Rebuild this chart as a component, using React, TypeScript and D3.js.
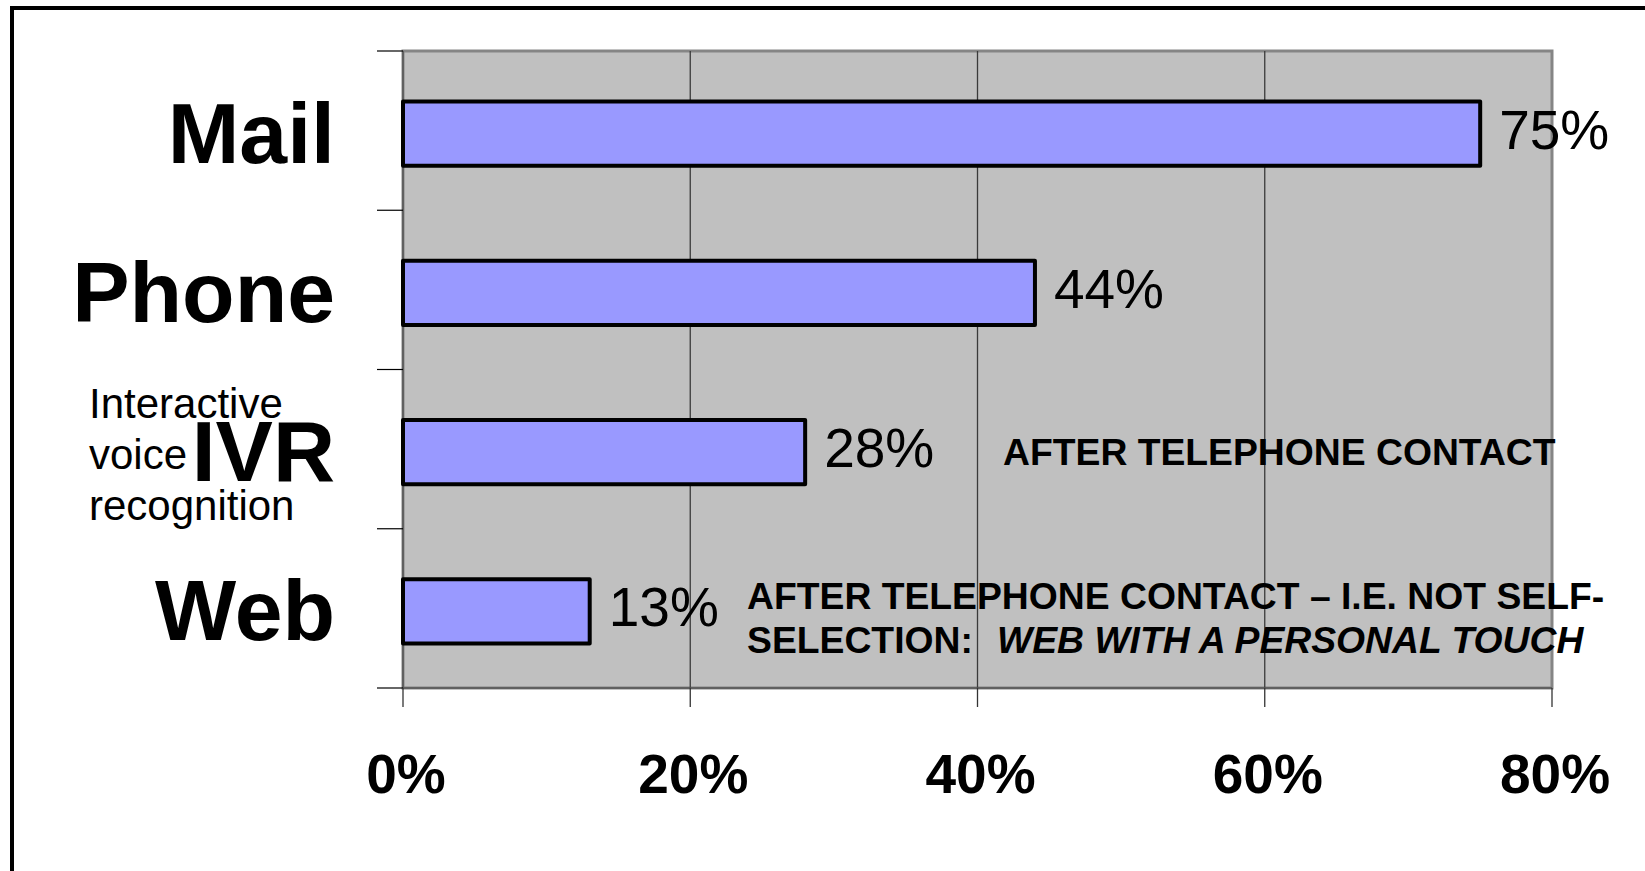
import React from "react";
import * as d3 from "d3";

const categories = ["Mail", "Phone", "IVR", "Web"];
const values = [75, 44, 28, 13];
const xTicks = [0, 20, 40, 60, 80];
const ivrNote = ["Interactive", "voice", "recognition"];
const ivrAnnotation = "AFTER TELEPHONE CONTACT";
const webAnnotationLine1 = "AFTER TELEPHONE CONTACT \u2013 I.E. NOT SELF-";
const webAnnotationLine2a = "SELECTION:";
const webAnnotationLine2b = "WEB WITH A PERSONAL TOUCH";

const W = 1645;
const H = 871;
const margin = { left: 403, right: 93, top: 51, bottom: 183 };
const FONT = "'Liberation Sans', Arial, Helvetica, sans-serif";

export default function App() {
  const x = d3
    .scaleLinear()
    .domain([0, 80])
    .range([margin.left, W - margin.right]);
  const y = d3
    .scaleBand<string>()
    .domain(categories)
    .range([margin.top, H - margin.bottom])
    .paddingInner(0)
    .paddingOuter(0);
  const bw = y.bandwidth();
  const barH = bw * 0.405;
  const shift = 3;
  const center = (c: string) => (y(c) as number) + bw / 2 + shift;
  const boundaries = categories.map((c) => y(c) as number).concat([H - margin.bottom]);
  const plotTop = margin.top;
  const plotBottom = H - margin.bottom;

  const ivrC = center("IVR");
  const webC = center("Web");

  return (
    <svg
      width={W}
      height={H}
      style={{ position: "absolute", left: 0, top: 0, display: "block", background: "#fff" }}
      fontFamily={FONT}
    >
      {/* outer frame */}
      <rect x={12} y={8} width={W + 20} height={H + 20} fill="none" stroke="#000" strokeWidth={4} />

      {/* plot background */}
      <rect
        x={x(0)}
        y={plotTop}
        width={x(80) - x(0)}
        height={plotBottom - plotTop}
        fill="#C0C0C0"
        stroke="#858585"
        strokeWidth={3}
      />

      {/* vertical gridlines */}
      {xTicks.slice(1, -1).map((t) => (
        <line key={"g" + t} x1={x(t)} x2={x(t)} y1={plotTop} y2={plotBottom} stroke="#3a3a3a" strokeWidth={1.3} />
      ))}

      {/* axes lines */}
      <line x1={x(0)} x2={x(0)} y1={plotTop} y2={plotBottom} stroke="#555" strokeWidth={1.5} />
      <line x1={x(0)} x2={x(80)} y1={plotBottom} y2={plotBottom} stroke="#555" strokeWidth={1.5} />

      {/* y ticks */}
      {boundaries.map((b, i) => (
        <line key={"yt" + i} x1={377} x2={x(0)} y1={b} y2={b} stroke="#000" strokeWidth={1.2} />
      ))}

      {/* x ticks */}
      {xTicks.map((t) => (
        <line key={"xt" + t} x1={x(t)} x2={x(t)} y1={plotBottom} y2={plotBottom + 19} stroke="#333" strokeWidth={1.3} />
      ))}

      {/* x tick labels */}
      {xTicks.map((t) => (
        <text
          key={"xl" + t}
          x={x(t) + 3}
          y={793}
          textAnchor="middle"
          fontSize={55}
          fontWeight="bold"
          fill="#000"
        >
          {t + "%"}
        </text>
      ))}

      {/* bars */}
      {categories.map((c, i) => (
        <rect
          key={"b" + c}
          x={x(0)}
          y={center(c) - barH / 2}
          width={x(values[i]) - x(0)}
          height={barH}
          fill="#9999FF"
          stroke="#000"
          strokeWidth={4}
          strokeLinejoin="round"
        />
      ))}

      {/* value labels */}
      {categories.map((c, i) => (
        <text
          key={"v" + c}
          x={x(values[i]) + 19}
          y={center(c) + 15}
          fontSize={55}
          fill="#000"
        >
          {values[i] + "%"}
        </text>
      ))}

      {/* category labels */}
      {categories.map((c) => (
        <text
          key={"c" + c}
          x={335}
          y={center(c) + 29}
          textAnchor="end"
          fontSize={86}
          fontWeight="bold"
          fill="#000"
        >
          {c}
        </text>
      ))}

      {/* IVR note */}
      {ivrNote.map((s, i) => (
        <text key={"n" + i} x={89} y={ivrC - 34 + i * 51} fontSize={42} fill="#000">
          {s}
        </text>
      ))}

      {/* annotations */}
      <text x={1003} y={ivrC + 13} fontSize={37.3} fontWeight="bold" fill="#000">
        {ivrAnnotation}
      </text>
      <text x={747} y={webC - 2} fontSize={37.3} fontWeight="bold" fill="#000">
        {webAnnotationLine1}
      </text>
      <text x={747} y={webC + 42} fontSize={37.3} fontWeight="bold" fill="#000">
        <tspan>{webAnnotationLine2a}</tspan>
        <tspan x={997} fontStyle="italic">{webAnnotationLine2b}</tspan>
      </text>
    </svg>
  );
}
